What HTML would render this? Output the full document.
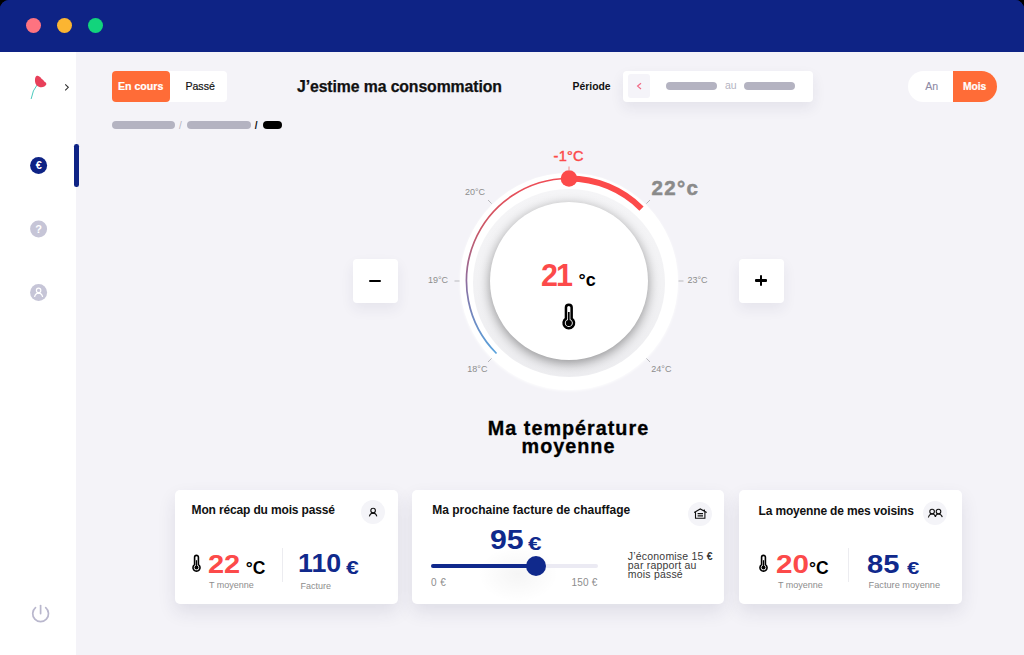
<!DOCTYPE html>
<html>
<head>
<meta charset="utf-8">
<style>
html,body{margin:0;padding:0;}
body{width:1024px;height:655px;position:relative;overflow:hidden;background:#000;font-family:"Liberation Sans",sans-serif;}
.a{position:absolute;}
.t{position:absolute;white-space:nowrap;line-height:1;}
#win{position:absolute;left:0;top:0;width:1024px;height:655px;background:linear-gradient(#0e2385 0,#0e2385 30px,#f4f3f8 30px);border-radius:9px 9px 0 0;overflow:hidden;}
#hdr{position:absolute;left:0;top:0;width:1024px;height:52px;background:#0e2385;}
.dot{position:absolute;width:15.6px;height:15.6px;border-radius:50%;top:17.8px;}
#side{position:absolute;left:0;top:52px;width:76.2px;height:603px;background:#fff;}
.pill{position:absolute;height:8px;border-radius:4px;background:#b4b3c1;}
.card{position:absolute;top:490px;height:114px;background:#fff;border-radius:5px;box-shadow:0 8px 18px rgba(40,40,80,0.10);}
.ic{position:absolute;width:24px;height:24px;border-radius:50%;background:#f4f4f8;}
.lbl{position:absolute;white-space:nowrap;line-height:1;font-size:9px;color:#8d8d8d;}
.btn{position:absolute;width:45px;height:44px;top:259px;background:#fff;border-radius:4px;box-shadow:0 6px 14px rgba(40,40,80,0.07);}
</style>
</head>
<body>
<div id="win">
  <div id="hdr">
    <div class="dot" style="left:25.7px;background:#fe7380"></div>
    <div class="dot" style="left:56.8px;background:#fbb532"></div>
    <div class="dot" style="left:87.7px;background:#12d47c"></div>
  </div>
  <div id="side"></div>
  <!-- active bar -->
  <div class="a" style="left:74.2px;top:144px;width:4.6px;height:43px;border-radius:2.3px;background:#0e2385;"></div>

  <!-- sidebar svg icons -->
  <svg class="a" style="left:0;top:0" width="80" height="655" viewBox="0 0 80 655">
    <!-- logo -->
    <path d="M37 85 Q32.6 90 31.2 98.6" stroke="#4ccabd" stroke-width="1" fill="none" stroke-linecap="round"/>
    <path d="M46.3 84.6 C45 87.6 39.5 88.2 36.8 85.4 C34.6 83.2 34.6 78.8 35.6 77 C36.3 75.5 38.2 75.2 39.2 76.6 C40.6 77.2 41.4 78.2 41.6 79 C43.2 79.6 44 80.8 44.2 81.6 C45.6 82.2 46.6 83.4 46.3 84.6 Z" fill="#e8405a"/>
    <path d="M65.2 84.3 L68.3 87.3 L65.2 90.3" stroke="#333" stroke-width="1.1" fill="none"/>
    <!-- euro -->
    <circle cx="38.6" cy="165.6" r="8.5" fill="#0e2385"/>
    <text x="38.8" y="169.4" font-family="Liberation Sans" font-weight="700" font-size="11" fill="#fff" text-anchor="middle">€</text>
    <!-- ? -->
    <circle cx="38.6" cy="229" r="8.5" fill="#c6c5d7"/>
    <text x="38.6" y="233" font-family="Liberation Sans" font-weight="700" font-size="11" fill="#fff" text-anchor="middle">?</text>
    <!-- person -->
    <circle cx="38.6" cy="292.6" r="8.5" fill="#c6c5d7"/>
    <circle cx="38.6" cy="290.4" r="2.2" stroke="#fff" stroke-width="1.2" fill="none"/>
    <path d="M34.6 297 Q35.2 293.4 38.6 293.2 Q42 293.4 42.6 297" stroke="#fff" stroke-width="1.2" fill="none"/>
    <!-- power -->
    <path d="M35.5 607.65 A7.9 7.9 0 1 0 45.7 607.65" stroke="#b9b7cd" stroke-width="1.7" fill="none" stroke-linecap="round"/>
    <path d="M40.6 605.6 L40.6 613.6" stroke="#b9b7cd" stroke-width="1.7" stroke-linecap="round"/>
  </svg>

  <!-- top bar: segmented -->
  <div class="a" style="left:112px;top:71px;width:115px;height:31px;background:#fff;border-radius:4px;"></div>
  <div class="a" style="left:112px;top:71px;width:57.6px;height:31px;background:#ff6c37;border-radius:4px;"></div>
  <div class="t" style="left:118px;top:80.5px;font-size:10.6px;font-weight:700;color:#fff;-webkit-text-stroke:0.2px #fff;">En cours</div>
  <div class="t" style="left:185.4px;top:80.5px;font-size:10.6px;color:#111;-webkit-text-stroke:0.2px #111;">Passé</div>

  <div class="t" style="left:297px;top:78.5px;font-size:15.8px;font-weight:700;color:#111;letter-spacing:-0.1px;-webkit-text-stroke:0.25px #111;">J’estime ma consommation</div>

  <div class="t" style="left:572.5px;top:81.8px;font-size:10.4px;font-weight:700;color:#111;">Période</div>
  <div class="a" style="left:623px;top:71px;width:189.6px;height:31px;background:#fff;border-radius:4px;box-shadow:0 6px 14px rgba(40,40,80,0.08);"></div>
  <div class="a" style="left:627.7px;top:74.4px;width:22.8px;height:23.3px;background:#f5f4f9;border-radius:3px;"></div>
  <svg class="a" style="left:630px;top:78px" width="20" height="16"><path d="M11 5.2 L7.6 8.1 L11 11" stroke="#f26a86" stroke-width="1.2" fill="none"/></svg>
  <div class="pill" style="left:665.8px;top:82px;width:51.6px;"></div>
  <div class="t" style="left:725px;top:79.5px;font-size:10.5px;color:#b4b3c1;">au</div>
  <div class="pill" style="left:744px;top:82px;width:51px;"></div>

  <!-- An / Mois -->
  <div class="a" style="left:908.3px;top:71px;width:89px;height:31px;background:#fff;border-radius:15.5px;overflow:hidden;">
    <div class="a" style="left:44.3px;top:0;width:44.7px;height:31px;background:#ff6c37;"></div>
  </div>
  <div class="t" style="left:925.3px;top:81px;font-size:10.6px;color:#8d8aa6;-webkit-text-stroke:0.1px #8d8aa6;">An</div>
  <div class="t" style="left:962.9px;top:81.5px;font-size:10.3px;font-weight:700;color:#fff;-webkit-text-stroke:0.2px #fff;">Mois</div>

  <!-- breadcrumbs -->
  <div class="pill" style="left:112px;top:121.2px;width:63px;"></div>
  <div class="t" style="left:179px;top:120.5px;font-size:10px;color:#b4b3c1;">/</div>
  <div class="pill" style="left:187.4px;top:121.2px;width:63.6px;"></div>
  <div class="t" style="left:254.8px;top:120.5px;font-size:10px;font-weight:700;color:#111;">/</div>
  <div class="pill" style="left:263px;top:121.2px;width:19.3px;background:#000;"></div>

  <!-- dial -->
  <div class="a" style="left:460px;top:172.5px;width:218px;height:217px;border-radius:50%;background:#fff;box-shadow:0 1px 3px rgba(255,255,255,0.9);"></div>
  <div class="a" style="left:473px;top:189px;width:192px;height:187.6px;border-radius:50%;background:linear-gradient(#f5f5f7,#f2f2f4 50%,#ededf0);"></div>
  <div class="a" style="left:489.7px;top:201.8px;width:158.6px;height:158.6px;border-radius:50%;background:#fff;box-shadow:0 3px 12px rgba(0,0,0,0.40);"></div>

  <svg class="a" style="left:0;top:0" width="1024" height="655" viewBox="0 0 1024 655">
    <defs>
      <linearGradient id="g1" x1="0" y1="353.5" x2="0" y2="178.5" gradientUnits="userSpaceOnUse">
        <stop offset="0" stop-color="#58a2dc"/>
        <stop offset="0.2" stop-color="#6f8ac2"/>
        <stop offset="0.41" stop-color="#8e6e9e"/>
        <stop offset="0.7" stop-color="#c85868"/>
        <stop offset="1" stop-color="#f04c55"/>
      </linearGradient>
    </defs>
    <!-- thin arc from -135deg to 0 -->
    <path d="M496.52 353.48 A102.5 102.5 0 0 1 569 178.5" stroke="url(#g1)" stroke-width="1.7" fill="none"/>
    <!-- thick arc 0 to 45 -->
    <path d="M569 178.5 A102.5 102.5 0 0 1 641.48 208.52" stroke="#fc4a4a" stroke-width="6" fill="none"/>
    <circle cx="569" cy="178.5" r="8.3" fill="#fc4a4a"/>
    <!-- ticks -->
    <g stroke="#b9b9bd" stroke-width="1">
      <line x1="569" y1="166.5" x2="569" y2="171" stroke="#f08a8a"/>
      <line x1="454.5" y1="281" x2="459.5" y2="281"/>
      <line x1="678.5" y1="281" x2="683.5" y2="281"/>
      <line x1="488" y1="200" x2="491.6" y2="203.6"/>
      <line x1="488" y1="362" x2="491.6" y2="358.4"/>
      <line x1="646.4" y1="203.6" x2="650" y2="200"/>
      <line x1="646.4" y1="358.4" x2="650" y2="362"/>
    </g>
    <!-- thermometer center -->
    <g transform="translate(568.8 323)">
      <path d="M-2.85 -4.41 L-2.85 -15.4 A2.85 2.85 0 0 1 2.85 -15.4 L2.85 -4.41 A5.25 5.25 0 1 1 -2.85 -4.41 Z" stroke="#000" stroke-width="2.5" fill="none"/>
      <circle cx="0" cy="0" r="3.1" fill="#000"/>
      <line x1="0" y1="-11" x2="0" y2="0" stroke="#000" stroke-width="1.7"/>
    </g>
  </svg>

  <div class="t" style="left:553.5px;top:149px;font-size:14.5px;font-weight:400;color:#fc4a4a;-webkit-text-stroke:0.45px #fc4a4a;letter-spacing:0.3px;">-1°C</div>
  <div class="t" style="left:651.5px;top:178px;font-size:20.5px;font-weight:700;color:#8a8a8a;-webkit-text-stroke:0.5px #8a8a8a;letter-spacing:1.3px;">22°c</div>
  <div class="lbl" style="left:465px;top:188.2px;">20°C</div>
  <div class="lbl" style="left:428px;top:276.3px;">19°C</div>
  <div class="lbl" style="left:467.3px;top:364.7px;">18°C</div>
  <div class="lbl" style="left:687.5px;top:275.8px;">23°C</div>
  <div class="lbl" style="left:651.3px;top:364.7px;">24°C</div>

  <div class="t" style="left:541px;top:260px;font-size:30.5px;font-weight:700;color:#fc4a4a;letter-spacing:-2px;">21</div>
  <div class="t" style="left:578.6px;top:271px;font-size:18px;font-weight:700;color:#000;">°c</div>

  <!-- +/- buttons -->
  <div class="btn" style="left:353px;"></div>
  <div class="a" style="left:369px;top:279.6px;width:12.3px;height:2.5px;border-radius:1.2px;background:#000;"></div>
  <div class="btn" style="left:739px;"></div>
  <div class="a" style="left:755.2px;top:279.4px;width:11.6px;height:2.2px;border-radius:1px;background:#000;"></div>
  <div class="a" style="left:759.9px;top:274.7px;width:2.2px;height:11.6px;border-radius:1px;background:#000;"></div>

  <div class="t" style="left:0;width:1137px;top:418.7px;text-align:center;font-size:19.8px;font-weight:700;color:#000;line-height:18px;letter-spacing:1.0px;-webkit-text-stroke:0.3px #000;">Ma température<br>moyenne</div>

  <!-- cards -->
  <div class="card" style="left:175px;width:223px;"></div>
  <div class="card" style="left:412.3px;width:312px;"></div>
  <div class="card" style="left:739px;width:223px;"></div>

  <svg class="a" style="left:0;top:0" width="1024" height="655" viewBox="0 0 1024 655">
    <!-- small thermometers -->
    <g transform="translate(196.5 567.6) scale(0.67)">
      <path d="M-2.85 -4.41 L-2.85 -15.4 A2.85 2.85 0 0 1 2.85 -15.4 L2.85 -4.41 A5.25 5.25 0 1 1 -2.85 -4.41 Z" stroke="#000" stroke-width="2.4" fill="none"/>
      <circle cx="0" cy="0" r="3" fill="#000"/>
      <line x1="0" y1="-11" x2="0" y2="0" stroke="#000" stroke-width="1.8"/>
    </g>
    <g transform="translate(763.5 567.6) scale(0.67)">
      <path d="M-2.85 -4.41 L-2.85 -15.4 A2.85 2.85 0 0 1 2.85 -15.4 L2.85 -4.41 A5.25 5.25 0 1 1 -2.85 -4.41 Z" stroke="#000" stroke-width="2.4" fill="none"/>
      <circle cx="0" cy="0" r="3" fill="#000"/>
      <line x1="0" y1="-11" x2="0" y2="0" stroke="#000" stroke-width="1.8"/>
    </g>
  </svg>
  <!-- card 1 -->
  <div class="t" style="left:191.6px;top:504.3px;font-size:12px;font-weight:700;color:#111;letter-spacing:-0.15px;">Mon récap du mois passé</div>
  <div class="ic" style="left:360.6px;top:500px;"></div>
  <svg class="a" style="left:360.6px;top:500px" width="24" height="24"><circle cx="12.1" cy="10.5" r="2.3" stroke="#111" stroke-width="1.1" fill="none"/><path d="M8.4 16.4 Q9 13.2 12.1 13.1 Q15.2 13.2 15.8 16.4" stroke="#111" stroke-width="1.1" fill="none"/></svg>
  <div class="t" style="left:208px;top:551px;font-size:26px;font-weight:700;color:#fc4a4a;transform:scaleX(1.115);transform-origin:0 0;">22</div>
  <div class="t" style="left:245.7px;top:559.5px;font-size:17.5px;font-weight:700;color:#000;">°C</div>
  <div class="lbl" style="left:209px;top:581px;font-size:9px;color:#8d8d8d;">T moyenne</div>
  <div class="a" style="left:282.3px;top:548px;width:1px;height:33.5px;background:#ececf0;"></div>
  <div class="t" style="left:298.2px;top:550px;font-size:26px;font-weight:700;color:#10298c;transform:scaleX(1.03);transform-origin:0 0;">110</div>
  <div class="t" style="left:345.8px;top:559px;font-size:18px;font-weight:700;color:#10298c;transform:scaleX(1.28);transform-origin:0 0;">€</div>
  <div class="lbl" style="left:300.4px;top:581.5px;font-size:9px;color:#8d8d8d;">Facture</div>

  <!-- card 2 -->
  <div class="t" style="left:432.2px;top:504px;font-size:12px;font-weight:700;color:#111;">Ma prochaine facture de chauffage</div>
  <div class="ic" style="left:688px;top:502.2px;"></div>
  <svg class="a" style="left:688px;top:502.2px" width="24" height="24"><path d="M6.2 10.4 L12.3 7 L18.7 10.4 M7.5 10 V16.3 H16.9 V10 M16.3 7.4 V9.2" stroke="#111" stroke-width="1.1" fill="none"/><path d="M9.6 11.6 H15 M9.6 13.9 H15" stroke="#111" stroke-width="1.1"/></svg>
  <div class="t" style="left:489.5px;top:526px;font-size:28px;font-weight:700;color:#10298c;transform:scaleX(1.08);transform-origin:0 0;">95</div>
  <div class="t" style="left:527.5px;top:535px;font-size:18px;font-weight:700;color:#10298c;transform:scaleX(1.35);transform-origin:0 0;">€</div>
  <div class="a" style="left:478px;top:546px;width:80px;height:56px;background:radial-gradient(closest-side,rgba(0,0,0,0.04),rgba(0,0,0,0));"></div>
  <div class="a" style="left:431px;top:564.3px;width:167.2px;height:4px;border-radius:2px;background:#ebeaf3;"></div>
  <div class="a" style="left:431px;top:564.3px;width:106px;height:4px;border-radius:2px;background:#10298c;"></div>
  <div class="a" style="left:526.1px;top:556.3px;width:20px;height:20px;border-radius:50%;background:#10298c;"></div>
  <div class="lbl" style="left:431px;top:578px;font-size:10px;color:#8d8d8d;letter-spacing:0.4px;">0 €</div>
  <div class="lbl" style="left:571.6px;top:578px;font-size:10px;color:#8d8d8d;letter-spacing:0.2px;">150 €</div>
  <div class="t" style="left:627.8px;top:551.5px;font-size:10.5px;line-height:9.2px;color:#3a3a3a;letter-spacing:0.2px;">J’économise 15 <b>€</b><br>par rapport au<br>mois passé</div>

  <!-- card 3 -->
  <div class="t" style="left:758.6px;top:504.5px;font-size:12px;font-weight:700;color:#111;letter-spacing:-0.17px;">La moyenne de mes voisins</div>
  <div class="ic" style="left:923px;top:500.7px;"></div>
  <svg class="a" style="left:923px;top:500.7px" width="24" height="24"><circle cx="9.1" cy="10.6" r="2.3" stroke="#111" stroke-width="1.1" fill="none"/><circle cx="15.5" cy="10.6" r="2.3" stroke="#111" stroke-width="1.1" fill="none"/><path d="M5.4 16.5 Q6.2 13 9.1 13 Q11.8 13 12.4 15.8 M12.4 15.8 Q13 13 15.5 13 Q18.4 13 19.3 16.2" stroke="#111" stroke-width="1.1" fill="none"/></svg>
  <div class="t" style="left:776px;top:551px;font-size:26px;font-weight:700;color:#fc4a4a;transform:scaleX(1.14);transform-origin:0 0;">20</div>
  <div class="t" style="left:809px;top:559.5px;font-size:17.5px;font-weight:700;color:#000;">°C</div>
  <div class="lbl" style="left:777.9px;top:581px;font-size:9px;color:#8d8d8d;">T moyenne</div>
  <div class="a" style="left:848.2px;top:548px;width:1px;height:33.5px;background:#ececf0;"></div>
  <div class="t" style="left:866.8px;top:550.5px;font-size:26px;font-weight:700;color:#10298c;transform:scaleX(1.12);transform-origin:0 0;">85</div>
  <div class="t" style="left:906.8px;top:559.5px;font-size:17px;font-weight:700;color:#10298c;transform:scaleX(1.3);transform-origin:0 0;">€</div>
  <div class="lbl" style="left:868.6px;top:581px;font-size:9.2px;color:#8d8d8d;">Facture moyenne</div>
</div>
</body>
</html>
